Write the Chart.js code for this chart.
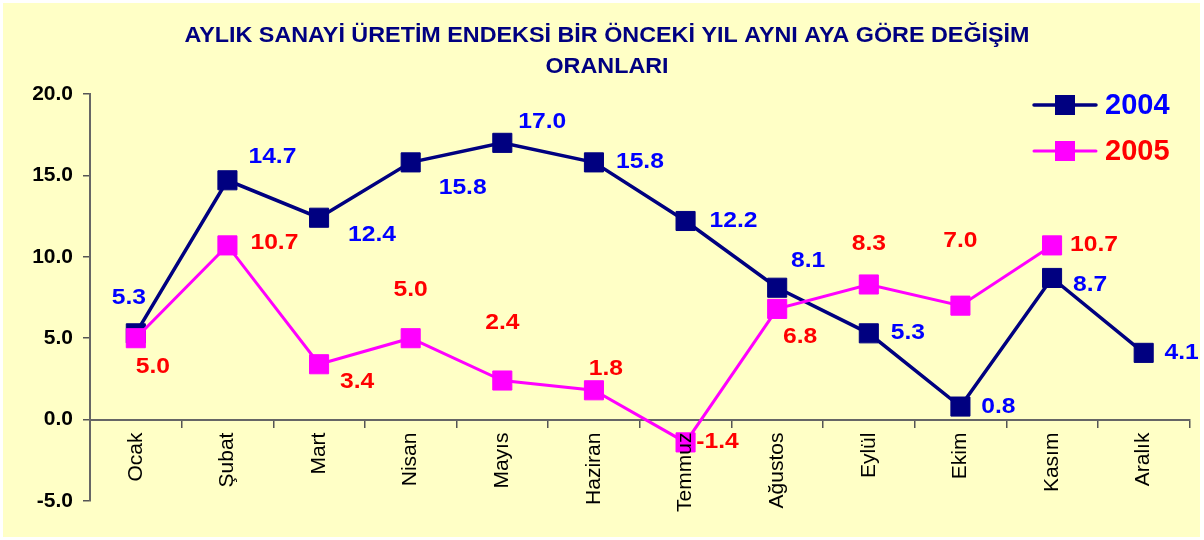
<!DOCTYPE html>
<html>
<head>
<meta charset="utf-8">
<script src="https://cdn.jsdelivr.net/npm/chart.js@4.4.1/dist/chart.umd.min.js"></script>
<style>
  html, body { margin: 0; padding: 0; background: #ffffff; }
  #wrap { width: 1204px; height: 540px; }
</style>
</head>
<body>
<div id="wrap"><canvas id="canvasUretim" width="1204" height="540"></canvas></div>
<script>
// aylar
var aylar = ['Ocak', 'Şubat', 'Mart', 'Nisan', 'Mayıs', 'Haziran', 'Temmuz', 'Ağustos', 'Eylül', 'Ekim', 'Kasım', 'Aralık'];
// degisim oranlari
var veri2004 = [5.3, 14.7, 12.4, 15.8, 17.0, 15.8, 12.2, 8.1, 5.3, 0.8, 8.7, 4.1];
var veri2005 = [5.0, 10.7, 3.4, 5.0, 2.4, 1.8, -1.4, 6.8, 8.3, 7.0, 10.7, null];
var yTicks = [-5, 0, 5, 10, 15, 20];

var baslik = ['AYLIK SANAYİ ÜRETİM ENDEKSİ BİR ÖNCEKİ YIL AYNI AYA GÖRE DEĞİŞİM', 'ORANLARI'];

// etiket kaydirmalari (noktaya gore)
var etiket2004 = [[-7, -35], [45, -23], [53, 17], [52, 26], [40, -21], [46, 0], [48, 0], [31, -27], [39, 0], [38, 0], [38, 7], [38, 0]];
var etiket2005 = [[17, 29], [47, -2], [38, 18], [0, -48], [0, -58], [12, -21], [32, 0], [23, 28], [0, -41], [0, -65], [42, 0], [0, 0]];

var FONT = '"Liberation Sans", Arial, sans-serif';

var arkaPlan = {
	id: 'arkaPlan',
	beforeDraw: function(chart){
		var ctx = chart.ctx;
		ctx.save();
		ctx.fillStyle = '#ffffff';
		ctx.fillRect(0, 0, chart.width, chart.height);
		ctx.fillStyle = '#ffffc6';
		ctx.fillRect(3, 3, chart.width - 7, chart.height - 6);
		ctx.restore();
	},
	afterDraw: function(chart){
		var ctx = chart.ctx;
		ctx.save();
		ctx.fillStyle = '#000080';
		ctx.font = 'bold 22px ' + FONT;
		ctx.textAlign = 'center';
		ctx.textBaseline = 'middle';
		// birinci satir genis
		var w = ctx.measureText(baslik[0]).width;
		ctx.save();
		ctx.translate(607, 36);
		ctx.scale(845 / w, 1);
		ctx.fillText(baslik[0], 0, 0);
		ctx.restore();
		ctx.save();
		ctx.translate(607, 67);
		ctx.scale(845 / w, 1);
		ctx.fillText(baslik[1], 0, 0);
		ctx.restore();
		ctx.restore();
	}
};

var degerEtiket = {
	id: 'degerEtiket',
	afterDatasetsDraw: function(chart){
		var ctx = chart.ctx;
		ctx.save();
		ctx.font = 'bold 22px ' + FONT;
		ctx.textAlign = 'center';
		ctx.textBaseline = 'middle';
		chart.data.datasets.forEach(function(ds, i){
			var meta = chart.getDatasetMeta(i);
			var ofs = i == 0 ? etiket2004 : etiket2005;
			ctx.fillStyle = ds.etiketRenk;
			meta.data.forEach(function(pt, j){
				var v = ds.data[j];
				if(v === null || v === undefined) return;
				ctx.save();
				ctx.translate(pt.x + ofs[j][0], pt.y + ofs[j][1]);
				ctx.scale(1.12, 1);
				ctx.fillText(v.toFixed(1), 0, 0);
				ctx.restore();
			});
		});
		ctx.restore();
	}
};

var lejant = {
	id: 'lejant',
	afterDraw: function(chart){
		var ctx = chart.ctx;
		var ys = [105, 151];
		ctx.save();
		chart.data.datasets.forEach(function(ds, i){
			var y = ys[i];
			ctx.strokeStyle = ds.borderColor;
			ctx.lineWidth = ds.borderWidth;
			ctx.lineCap = 'round';
			ctx.beginPath();
			ctx.moveTo(1034, y);
			ctx.lineTo(1096, y);
			ctx.stroke();
			ctx.fillStyle = ds.pointBackgroundColor;
			ctx.fillRect(1055, y - 10, 20, 20);
			ctx.fillStyle = ds.etiketRenk;
			ctx.font = 'bold 29px ' + FONT;
			ctx.textAlign = 'left';
			ctx.textBaseline = 'middle';
			ctx.fillText(ds.label, 1105, y + 1);
		});
		ctx.restore();
	}
};

var ctx = document.getElementById('canvasUretim').getContext('2d');
window.myLine = new Chart(ctx, {
	type: 'line',
	data: {
		labels: aylar,
		datasets: [{
			label: '2004',
			data: veri2004,
			order: 1,
			borderColor: '#000080',
			backgroundColor: '#000080',
			pointBackgroundColor: '#000080',
			pointBorderColor: '#000080',
			borderWidth: 3.5,
			pointStyle: 'rect',
			pointRadius: 13.5,
			pointBorderWidth: 1,
			etiketRenk: '#0000ff',
			tension: 0
		}, {
			label: '2005',
			data: veri2005,
			order: 0,
			borderColor: '#ff00ff',
			backgroundColor: '#ff00ff',
			pointBackgroundColor: '#ff00ff',
			pointBorderColor: '#ff00ff',
			borderWidth: 3,
			pointStyle: 'rect',
			pointRadius: 13.5,
			pointBorderWidth: 1,
			etiketRenk: '#ff0000',
			tension: 0
		}]
	},
	options: {
		responsive: false,
		animation: false,
		layout: { padding: { left: 0, top: 94, right: 8, bottom: 39 } },
		plugins: {
			legend: { display: false },
			title: { display: false },
			tooltip: { enabled: false }
		},
		scales: {
			x: {
				position: { y: 0 },
				offset: true,
				grid: { offset: true, drawOnChartArea: false, drawTicks: true, tickLength: 7, color: '#555555', lineWidth: 1.5 },
				border: { display: true, color: '#666666', width: 2 },
				ticks: {
					z: 1,
					minRotation: 90, maxRotation: 90, padding: 6, autoSkip: false,
					color: '#000000', font: { family: FONT, size: 21 }
				}
			},
			y: {
				min: -5,
				max: 20,
				afterFit: function(scale){ scale.width = 90; },
				afterBuildTicks: function(scale){ scale.ticks = yTicks.map(function(v){ return { value: v }; }); },
				grid: { drawOnChartArea: false, drawTicks: true, tickLength: 7, color: '#555555', lineWidth: 1.5 },
				border: { display: true, color: '#666666', width: 2 },
				ticks: {
					padding: 10,
					color: '#000000',
					font: { family: FONT, size: 21, weight: 'bold' },
					callback: function(v){ return Number(v).toFixed(1); }
				}
			}
		}
	},
	plugins: [arkaPlan, degerEtiket, lejant]
});
</script>
</body>
</html>
